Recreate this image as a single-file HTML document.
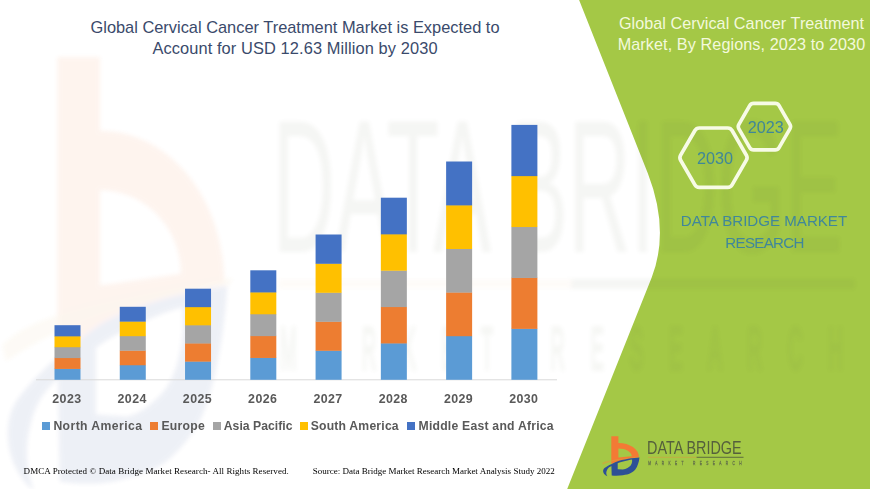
<!DOCTYPE html>
<html><head><meta charset="utf-8">
<style>
html,body{margin:0;padding:0;background:#fff;}
body{width:870px;height:489px;position:relative;overflow:hidden;font-family:"Liberation Sans",sans-serif;}
svg{position:absolute;left:0;top:0;}
.t{position:absolute;white-space:nowrap;}
.title{left:0;width:590px;text-align:center;color:#3a4a6b;font-size:16.4px;line-height:21.8px;top:16.5px;}
.rt{left:612px;letter-spacing:0.045px;width:259px;text-align:center;color:#f3f9dc;font-size:16.2px;line-height:21px;top:12.5px;}
.yr{position:absolute;top:390.5px;width:60px;text-align:center;font-weight:bold;font-size:12.4px;color:#595959;line-height:16px;letter-spacing:0.4px;}
.lg{position:absolute;top:418px;font-weight:bold;font-size:12.2px;color:#595959;line-height:16px;white-space:nowrap;}
.sq{position:absolute;top:422.3px;width:8px;height:8px;}
.hx{position:absolute;color:#3f8798;font-size:16.2px;line-height:20px;width:80px;text-align:center;}
.dbmr{left:664px;width:200px;text-align:center;color:#40879a;font-size:15.1px;line-height:21.7px;top:210px;}
.ft{position:absolute;font-family:"Liberation Serif",serif;font-size:9px;color:#000;white-space:nowrap;line-height:12px;}
</style></head><body>
<svg width="870" height="489" viewBox="0 0 870 489">
<defs><g id="lmark">
<path fill-rule="evenodd" d="M611.3,436.3 L618.4,436.3 L618.4,443.1 C629.8,443.1 639,449.3 639,457.2 L625.8,459.2 L617.2,461.8 L611.3,464 Z M618.4,448.6 C625.8,448.6 631.8,452.05 631.8,456.3 L618.4,457.4 Z" fill="#f37a35"/>
<path d="M602.2,462.9 C606,460.8 612,459.4 640.5,456.7 L639.4,457.7 C625,458.4 613,460.6 602.8,464.4 Z" fill="#d9a03a" opacity="0.6"/>
<path fill-rule="evenodd" d="M639.5,457.4 C634,457.7 622,459.3 617.2,461.4 C612,463.5 606,466.5 604,468.6 C602.8,470 602.8,472 604,473.75 C605,475 606,475.8 607.4,476.3 C606,474 605.8,472 607.4,469.2 C608.3,467.8 609.8,466.8 611.4,466 L611.7,475.5 C616,475.9 620,475.7 622.9,475.2 C626,474.7 628.5,474.2 630.3,473.2 C633,471.8 634.5,470.5 635.5,469.2 C637.5,466.5 639,462 639.5,457.4 Z M617.7,463.2 C620,462 628,460 632.05,459.4 C632.3,461.5 632,463 631.2,464.6 C630.3,466.3 629,467.3 627.5,468 C626,468.8 624.5,469.3 622.9,469.5 L617.7,469.3 Z" fill="#2d5096"/>
</g><g id="ltext">
<text x="647.0" y="454.3" font-family="Liberation Sans" font-size="17.5" fill="#55603c" textLength="94.6" lengthAdjust="spacingAndGlyphs">DATA BRIDGE</text>
<rect x="696.5" y="456.8" width="47" height="0.9" fill="#55603c"/>
<rect x="648" y="456.8" width="48.5" height="0.9" fill="#e0933f" opacity="0.55"/>
<text transform="translate(648.3,465.1) scale(0.6,1)" font-family="Liberation Sans" font-size="5.4" fill="#66744a" stroke="#66744a" stroke-width="0.35" textLength="155.4" lengthAdjust="spacing">MARKET RESEARCH</text>
</g><filter id="bl" x="-5%" y="-5%" width="110%" height="110%"><feGaussianBlur stdDeviation="2.2"/></filter><filter id="bl2" x="-10%" y="-10%" width="120%" height="120%"><feGaussianBlur stdDeviation="3"/></filter></defs>
<!-- green panel -->
<path d="M579.1,0 L647.9,173.4 Q669.9,230.2 651.7,277.6 L567.2,489 L870,489 L870,0 Z" fill="#a4c846"/>
<!-- watermark: scaled copy of the logo -->
<g opacity="0.08" filter="url(#bl)"><use href="#lmark" transform="translate(-3628.9,-4668.1) scale(6.03,10.83)"/></g>
<g opacity="0.058" filter="url(#bl)"><use href="#ltext" transform="translate(-3628.9,-4668.1) scale(6.03,10.83)"/></g>
<!-- axis -->
<rect x="36" y="379.3" width="521" height="1" fill="#d9d9d9"/>
<rect x="54.50" y="368.64" width="26" height="11.16" fill="#5b9bd5"/>
<rect x="54.50" y="357.78" width="26" height="11.16" fill="#ed7d31"/>
<rect x="54.50" y="346.92" width="26" height="11.16" fill="#a5a5a5"/>
<rect x="54.50" y="336.06" width="26" height="11.16" fill="#ffc000"/>
<rect x="54.50" y="325.20" width="26" height="11.16" fill="#4472c4"/>
<rect x="119.77" y="364.96" width="26" height="14.84" fill="#5b9bd5"/>
<rect x="119.77" y="350.42" width="26" height="14.84" fill="#ed7d31"/>
<rect x="119.77" y="335.88" width="26" height="14.84" fill="#a5a5a5"/>
<rect x="119.77" y="321.34" width="26" height="14.84" fill="#ffc000"/>
<rect x="119.77" y="306.80" width="26" height="14.84" fill="#4472c4"/>
<rect x="185.04" y="361.34" width="26" height="18.46" fill="#5b9bd5"/>
<rect x="185.04" y="343.18" width="26" height="18.46" fill="#ed7d31"/>
<rect x="185.04" y="325.02" width="26" height="18.46" fill="#a5a5a5"/>
<rect x="185.04" y="306.86" width="26" height="18.46" fill="#ffc000"/>
<rect x="185.04" y="288.70" width="26" height="18.46" fill="#4472c4"/>
<rect x="250.31" y="357.66" width="26" height="22.14" fill="#5b9bd5"/>
<rect x="250.31" y="335.82" width="26" height="22.14" fill="#ed7d31"/>
<rect x="250.31" y="313.98" width="26" height="22.14" fill="#a5a5a5"/>
<rect x="250.31" y="292.14" width="26" height="22.14" fill="#ffc000"/>
<rect x="250.31" y="270.30" width="26" height="22.14" fill="#4472c4"/>
<rect x="315.58" y="350.50" width="26" height="29.30" fill="#5b9bd5"/>
<rect x="315.58" y="321.50" width="26" height="29.30" fill="#ed7d31"/>
<rect x="315.58" y="292.50" width="26" height="29.30" fill="#a5a5a5"/>
<rect x="315.58" y="263.50" width="26" height="29.30" fill="#ffc000"/>
<rect x="315.58" y="234.50" width="26" height="29.30" fill="#4472c4"/>
<rect x="380.85" y="343.14" width="26" height="36.66" fill="#5b9bd5"/>
<rect x="380.85" y="306.78" width="26" height="36.66" fill="#ed7d31"/>
<rect x="380.85" y="270.42" width="26" height="36.66" fill="#a5a5a5"/>
<rect x="380.85" y="234.06" width="26" height="36.66" fill="#ffc000"/>
<rect x="380.85" y="197.70" width="26" height="36.66" fill="#4472c4"/>
<rect x="446.12" y="335.90" width="26" height="43.90" fill="#5b9bd5"/>
<rect x="446.12" y="292.30" width="26" height="43.90" fill="#ed7d31"/>
<rect x="446.12" y="248.70" width="26" height="43.90" fill="#a5a5a5"/>
<rect x="446.12" y="205.10" width="26" height="43.90" fill="#ffc000"/>
<rect x="446.12" y="161.50" width="26" height="43.90" fill="#4472c4"/>
<rect x="511.39" y="328.58" width="26" height="51.22" fill="#5b9bd5"/>
<rect x="511.39" y="277.66" width="26" height="51.22" fill="#ed7d31"/>
<rect x="511.39" y="226.74" width="26" height="51.22" fill="#a5a5a5"/>
<rect x="511.39" y="175.82" width="26" height="51.22" fill="#ffc000"/>
<rect x="511.39" y="124.90" width="26" height="51.22" fill="#4472c4"/>
<!-- hexagons -->
<path d="M746.36,155.20 Q747.80,157.70 746.36,160.20 L732.09,184.90 Q730.65,187.40 727.76,187.40 L699.24,187.40 Q696.35,187.40 694.91,184.90 L680.64,160.20 Q679.20,157.70 680.64,155.20 L694.91,130.50 Q696.35,128.00 699.24,128.00 L727.76,128.00 Q730.65,128.00 732.09,130.50 Z" fill="none" stroke="#f7fbe6" stroke-width="3.7" stroke-linejoin="round"/>
<path d="M789.90,124.35 Q791.20,126.60 789.90,128.85 L779.10,147.56 Q777.80,149.81 775.20,149.81 L753.60,149.81 Q751.00,149.81 749.70,147.56 L738.90,128.85 Q737.60,126.60 738.90,124.35 L749.70,105.64 Q751.00,103.39 753.60,103.39 L775.20,103.39 Q777.80,103.39 779.10,105.64 Z" fill="none" stroke="#f7fbe6" stroke-width="3.7" stroke-linejoin="round"/>
<!-- logo -->
<use href="#lmark"/><use href="#ltext"/>
</svg>
<div class="t title">Global Cervical Cancer Treatment Market is Expected to<br><span style="letter-spacing:0.1px">Account for USD 12.63 Million by 2030</span></div>
<div class="t rt">Global Cervical Cancer Treatment<br><span style="letter-spacing:0.09px">Market, By Regions, 2023 to 2030</span></div>
<div class="hx" style="left:675px;top:148px;">2030</div>
<div class="hx" style="left:725.8px;top:117px;">2023</div>
<div class="t dbmr">DATA BRIDGE MARKET<br><span style="letter-spacing:-0.7px;margin-left:1px">RESEARCH</span></div>
<div class="yr" style="left:36.90px">2023</div>
<div class="yr" style="left:102.17px">2024</div>
<div class="yr" style="left:167.44px">2025</div>
<div class="yr" style="left:232.71px">2026</div>
<div class="yr" style="left:297.98px">2027</div>
<div class="yr" style="left:363.25px">2028</div>
<div class="yr" style="left:428.52px">2029</div>
<div class="yr" style="left:493.79px">2030</div>
<div class="sq" style="left:42.2px;background:#5b9bd5"></div><div class="lg" style="left:53.4px;letter-spacing:0.42px">North America</div>
<div class="sq" style="left:150.2px;background:#ed7d31"></div><div class="lg" style="left:161.4px;letter-spacing:0.3px">Europe</div>
<div class="sq" style="left:212.8px;background:#a5a5a5"></div><div class="lg" style="left:223.8px;letter-spacing:0.02px">Asia Pacific</div>
<div class="sq" style="left:299.7px;background:#ffc000"></div><div class="lg" style="left:310.7px;letter-spacing:0.2px">South America</div>
<div class="sq" style="left:407.3px;background:#4472c4"></div><div class="lg" style="left:418.5px;letter-spacing:0.23px">Middle East and Africa</div>
<div class="ft" style="left:23.6px;top:464.5px;letter-spacing:0.06px">DMCA Protected © Data Bridge Market Research- All Rights Reserved.</div>
<div class="ft" style="left:312.7px;top:464.8px;">Source: Data Bridge Market Research Market Analysis Study 2022</div>
</body></html>
